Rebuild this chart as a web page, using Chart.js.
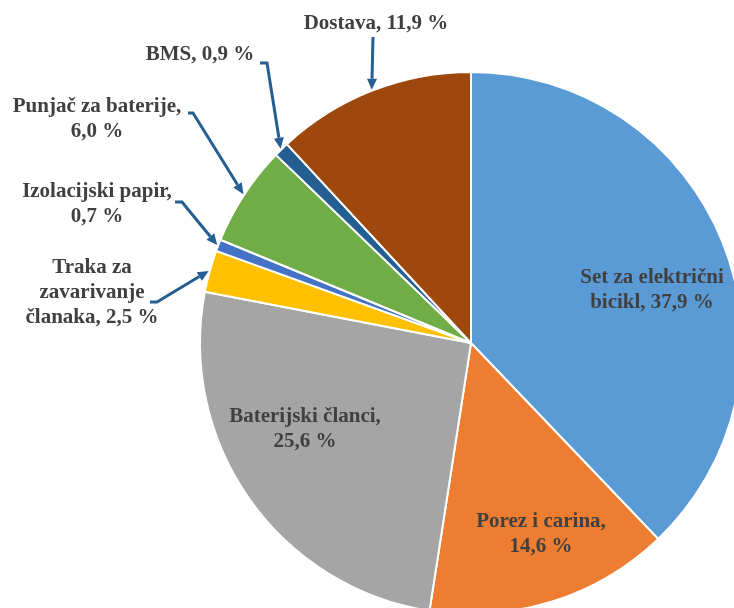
<!DOCTYPE html>
<html>
<head>
<meta charset="utf-8">
<script src="https://cdn.jsdelivr.net/npm/chart.js@4/dist/chart.umd.min.js"></script>
<style>
  html, body { margin: 0; padding: 0; background: #fff; }
  #wrap { position: relative; width: 734px; height: 608px; overflow: hidden; }
  #pie { position: absolute; left: 0; top: 0; }
</style>
</head>
<body>
<div id="wrap"><canvas id="pie" width="760" height="640"></canvas></div>
<script>
const categories = [
  "Set za električni bicikl",
  "Porez i carina",
  "Baterijski članci",
  "Traka za zavarivanje članaka",
  "Izolacijski papir",
  "Punjač za baterije",
  "BMS",
  "Dostava",
];
const shares = [37.9, 14.6, 25.6, 2.5, 0.7, 6.0, 0.9, 11.9];
const colors = ["#5B9BD5", "#ED7D31", "#A5A5A5", "#FFC000", "#4472C4", "#70AD47", "#255E91", "#9E480E"];

// where each label sits (text center, first line y), wrap width, optional leader start
const labelLayout = [
  { x: 652, y: 278, maxW: 165 },
  { x: 541, y: 522, maxW: 160 },
  { x: 305, y: 417, maxW: 180 },
  { x: 92, y: 268, maxW: 145 },
  { x: 97, y: 192, maxW: 185 },
  { x: 97, y: 107, maxW: 185 },
  { x: 200, y: 55, maxW: 300 },
  { x: 376, y: 24, maxW: 300 },
];
const leaders = [null, null, null, [150, 302, 157], [175, 202, 182], [188, 113, 193], [260, 63, 267], [373, 37, 373]];

const labelFont = "bold 21px 'Times New Roman', 'Liberation Serif', serif";
const leaderColor = "#255E91";

function fmt(v) {
  return v.toFixed(1).replace(".", ",") + "\u00a0%";
}

function wrapLines(ctx, text, maxW) {
  const words = text.split(" ");
  const lines = [];
  let cur = "";
  words.forEach((w) => {
    const test = cur ? cur + " " + w : w;
    if (cur && ctx.measureText(test).width > maxW) {
      lines.push(cur);
      cur = w;
    } else {
      cur = test;
    }
  });
  if (cur) lines.push(cur);
  return lines;
}

const pieLabels = {
  id: "pieLabels",
  afterDraw(chart) {
    const { ctx } = chart;
    const arcs = chart.getDatasetMeta(0).data;
    ctx.save();
    ctx.font = labelFont;
    ctx.textAlign = "center";
    ctx.textBaseline = "middle";
    arcs.forEach((arc, i) => {
      const lay = labelLayout[i];
      const text = categories[i] + ", " + fmt(shares[i]);
      const lines = wrapLines(ctx, text, lay.maxW);
      ctx.fillStyle = "#404040";
      lines.forEach((ln, k) => ctx.fillText(ln, lay.x, lay.y + k * 25));

      const lead = leaders[i];
      if (lead) {
        const { x, y, startAngle, endAngle, outerRadius } = arc.getProps(
          ["x", "y", "startAngle", "endAngle", "outerRadius"], true);
        const mid = (startAngle + endAngle) / 2;
        const tx = x + Math.cos(mid) * (outerRadius + 1);
        const ty = y + Math.sin(mid) * (outerRadius + 1);
        const [sx, sy, cx] = lead;
        const ang = Math.atan2(ty - sy, tx - cx);
        const headLen = 11;
        const bx = tx - Math.cos(ang) * headLen;
        const by = ty - Math.sin(ang) * headLen;
        ctx.strokeStyle = leaderColor;
        ctx.lineWidth = 3;
        ctx.lineJoin = "miter";
        ctx.beginPath();
        ctx.moveTo(sx, sy);
        ctx.lineTo(cx, sy);
        ctx.lineTo(bx, by);
        ctx.stroke();
        ctx.fillStyle = leaderColor;
        ctx.beginPath();
        ctx.moveTo(tx, ty);
        ctx.lineTo(bx + Math.sin(ang) * 5, by - Math.cos(ang) * 5);
        ctx.lineTo(bx - Math.sin(ang) * 5, by + Math.cos(ang) * 5);
        ctx.closePath();
        ctx.fill();
      }
    });
    ctx.restore();
  },
};

new Chart(document.getElementById("pie"), {
  type: "pie",
  data: {
    labels: categories,
    datasets: [
      {
        data: shares,
        backgroundColor: colors,
        borderColor: "#ffffff",
        borderWidth: 2,
      },
    ],
  },
  options: {
    responsive: false,
    animation: false,
    layout: {
      padding: { left: 199, top: 71, right: 17, bottom: 25 },
    },
    plugins: {
      legend: { display: false },
      tooltip: { enabled: false },
    },
  },
  plugins: [pieLabels],
});
</script>
</body>
</html>
